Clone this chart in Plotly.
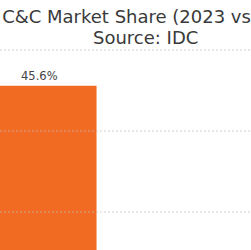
import plotly.graph_objects as go

# Data
categories = ["2023"]
shares = [45.6]
labels = [f"{v:.1f}%" for v in shares]
grid_values = [30, 40, 50]

title_line1 = "Global C&C Market Share (2023 vs 2024)"
title_line2 = "Source: IDC"

W, H = 251, 250
bar_color = "#F26B22"

fig = go.Figure()
fig.add_trace(go.Bar(
    x=categories, y=shares, width=0.8,
    marker=dict(color=bar_color, line=dict(width=0)),
    text=labels, textposition="outside", cliponaxis=False,
    textfont=dict(family="DejaVu Sans", size=11.5, color="#444444"),
    showlegend=False,
))

for gv in grid_values:
    fig.add_shape(type="line", xref="paper", x0=0, x1=1, yref="y", y0=gv, y1=gv,
                  layer="above", line=dict(color="rgba(190,190,190,0.7)", width=1, dash="2px,2px"))

fig.add_annotation(text=title_line1, xref="paper", yref="paper",
                   x=-63 / W, xanchor="left", y=1 - 16.5 / H, yanchor="middle",
                   showarrow=False, font=dict(family="DejaVu Sans", size=18, color="#3a3a3a"))
fig.add_annotation(text=title_line2, xref="paper", yref="paper",
                   x=145.5 / W, xanchor="center", y=1 - 37.1 / H, yanchor="middle",
                   showarrow=False, font=dict(family="DejaVu Sans", size=18, color="#3a3a3a"))

fig.update_layout(
    width=W, height=H,
    margin=dict(l=0, r=0, t=0, b=0),
    paper_bgcolor="white", plot_bgcolor="white",
    font=dict(family="DejaVu Sans"),
    xaxis=dict(visible=False, range=[-0.275, 1.48]),
    yaxis=dict(visible=True, showgrid=False, zeroline=False, showticklabels=False,
               ticks="", range=[25.31, 56.17]),
    uniformtext=dict(minsize=1, mode=False) if False else None,
)

fig.write_html("out.html")
